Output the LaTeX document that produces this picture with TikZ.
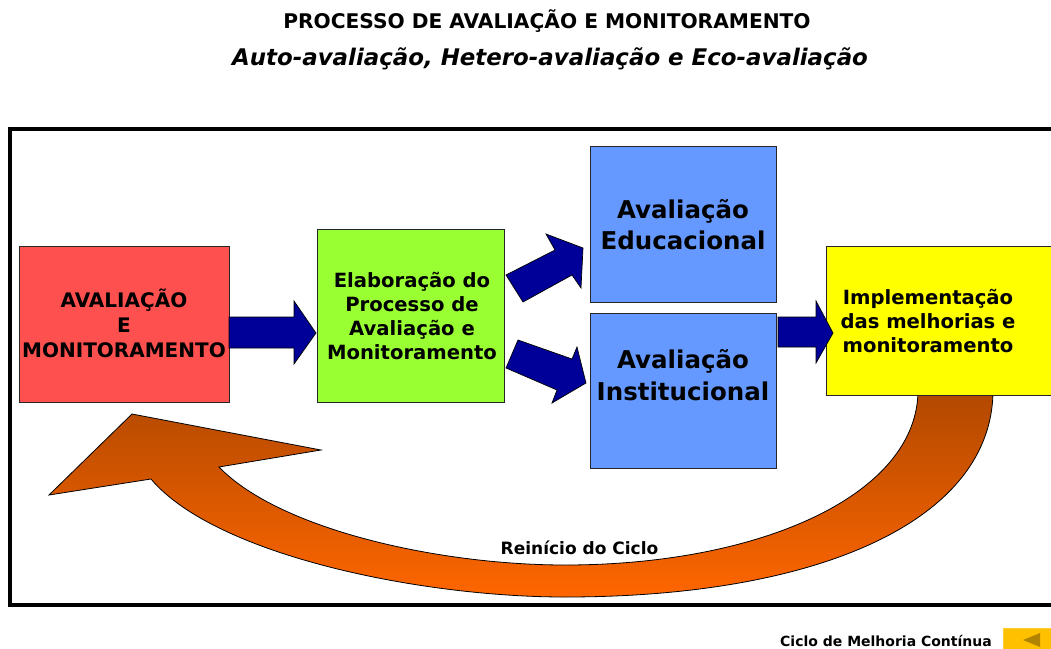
\documentclass[tikz,border=0pt]{standalone}
\usepackage{fontspec}
\setmainfont{DejaVu Sans}
\definecolor{boxred}{RGB}{255,80,80}
\definecolor{boxgreen}{RGB}{153,255,51}
\definecolor{boxblue}{RGB}{102,153,255}
\definecolor{boxyellow}{RGB}{255,255,0}
\definecolor{navyarrow}{RGB}{0,0,153}
\definecolor{cycletop}{RGB}{176,72,0}
\definecolor{cyclebot}{RGB}{255,102,0}
\definecolor{btnfill}{RGB}{255,192,0}
\definecolor{btntri}{RGB}{176,132,0}
\begin{document}
\begin{tikzpicture}[x=1pt,y=-1pt,
  box/.style={draw=black!85, line width=1.1pt, inner sep=0pt, anchor=north west},
  boxtext/.style={align=center, inner sep=0pt, font=\bfseries\fontsize{20}{24}\selectfont},
  blockarrow/.style={fill=navyarrow, draw=black, line width=0.7pt, line join=miter},
  cyclearrow/.style={draw=black, line width=0.8pt, top color=cycletop, bottom color=cyclebot},
  plain/.style={inner sep=0pt, anchor=base}]
\useasboundingbox (0,0) rectangle (1051,648);
\clip (0,0) rectangle (1051,648);

% titles
\node[plain, font=\bfseries\fontsize{20.2}{24}\selectfont] (title) at (547,28.5) {PROCESSO DE AVALIAÇÃO E MONITORAMENTO};
\node[plain, font=\bfseries\itshape\fontsize{22.9}{26}\selectfont] (subtitle) at (550,65) {Auto-avaliação, Hetero-avaliação e Eco-avaliação};

% frame
\draw[line width=4pt] (10.3,128.5) rectangle (1080,605);

% cycle arrow
\path[cyclearrow] (918,390) -- (993,390)
  .. controls (993,520) and (820,597) .. (565,597)
  .. controls (420,597) and (215,555) .. (151,479)
  -- (49,495) -- (132,414) -- (321,450) -- (219,467)
  .. controls (280,530) and (440,565) .. (565,565)
  .. controls (760,565) and (918,495) .. (918,390) -- cycle;
\node[plain, font=\bfseries\fontsize{17}{20}\selectfont] (reinicio) at (579.5,554) {Reinício do Ciclo};

% boxes
\node[box, fill=boxred, minimum width=210pt, minimum height=156pt] (aval) at (19,246) {};
\node[box, fill=boxgreen, minimum width=187pt, minimum height=173pt] (elab) at (317,229) {};
\node[box, fill=boxblue, minimum width=186pt, minimum height=156pt] (educ) at (590,146) {};
\node[box, fill=boxblue, minimum width=186pt, minimum height=155pt] (inst) at (590,313) {};
\node[box, fill=boxyellow, minimum width=260pt, minimum height=149pt] (impl) at (826,246) {};

% box texts
\node[boxtext, font=\bfseries\fontsize{20}{25}\selectfont] (avaltxt) at (124,323) {AVALIAÇÃO\\E\\MONITORAMENTO};
\node[boxtext, font=\bfseries\fontsize{19.6}{24}\selectfont] (elabtxt) at (412,316) {Elaboração do\\Processo de\\Avaliação e\\Monitoramento};
\node[boxtext, font=\bfseries\fontsize{24.5}{31}\selectfont] (eductxt) at (683,225) {Avaliação\\Educacional};
\node[boxtext, font=\bfseries\fontsize{24.5}{32}\selectfont] (insttxt) at (683,375) {Avaliação\\Institucional};
\node[boxtext, font=\bfseries\fontsize{19.6}{24}\selectfont] (impltxt) at (928,321) {Implementação\\das melhorias e\\monitoramento};

% block arrows
\path[blockarrow] (229,317) -- (294,317) -- (294,301) -- (316,333) -- (294,364) -- (294,348) -- (229,348) -- cycle;
\path[blockarrow] (506,275) -- (555,250) -- (546,234) -- (583,248) -- (581,288) -- (572,275) -- (523,302) -- cycle;
\path[blockarrow] (518,340) -- (572,359) -- (577,347) -- (586,383) -- (552,403) -- (557,390) -- (506,368) -- cycle;
\path[blockarrow] (778,317) -- (816,317) -- (816,301) -- (833,333) -- (816,363) -- (816,347) -- (778,347) -- cycle;

% footer
\node[plain, font=\bfseries\fontsize{14}{16}\selectfont] (ciclo) at (886,646) {Ciclo de Melhoria Contínua};
\node[fill=btnfill, draw=btnfill!80!white, minimum width=55pt, minimum height=25pt, inner sep=0pt, anchor=north west] (btn) at (1003,628) {};
\fill[btntri] (1023,640) -- (1040,633) -- (1040,647) -- cycle;
\end{tikzpicture}
\end{document}
